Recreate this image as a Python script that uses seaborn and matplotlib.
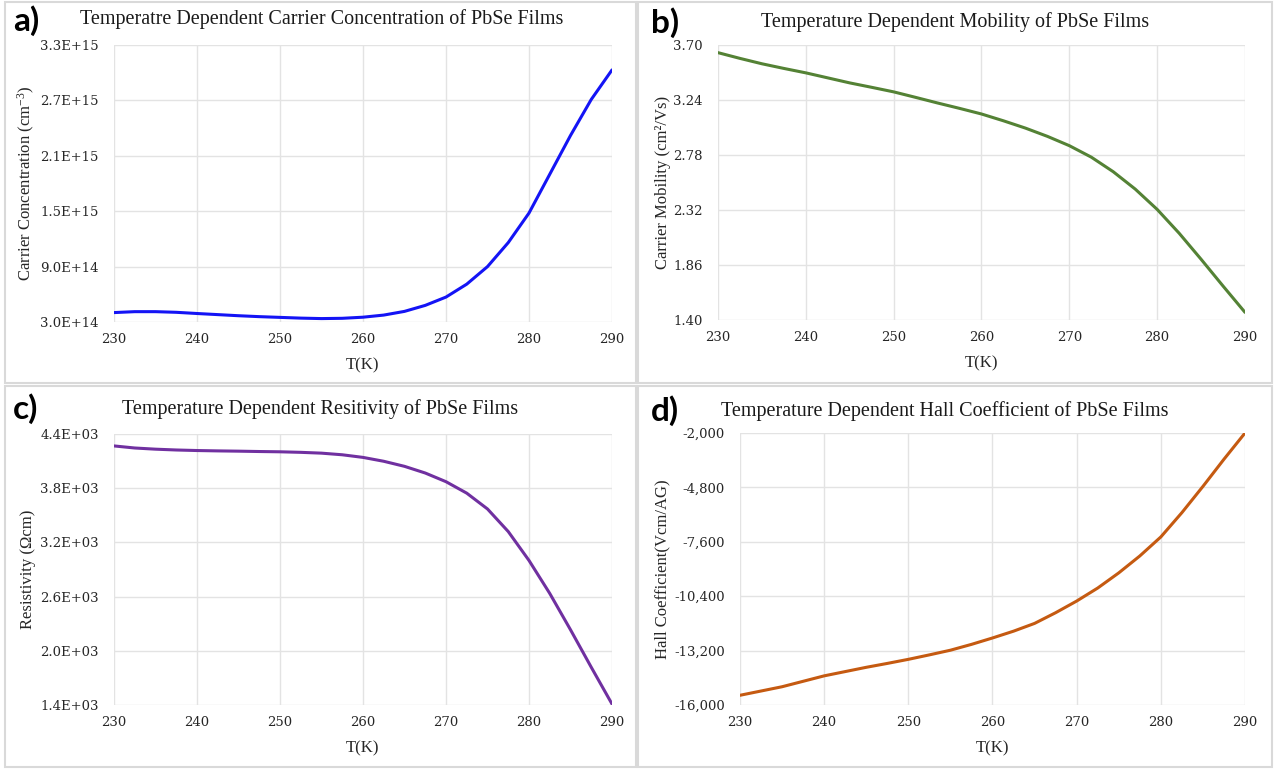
import numpy as np
import pandas as pd
import matplotlib
matplotlib.use("Agg")
import matplotlib.pyplot as plt
import seaborn as sns
from matplotlib.patches import Rectangle
from matplotlib.ticker import FixedLocator, FuncFormatter

# temperatures (K), read at 2.5 K steps
temp = [230, 232.5, 235, 237.5, 240, 242.5, 245, 247.5, 250, 252.5, 255, 257.5, 260,
        262.5, 265, 267.5, 270, 272.5, 275, 277.5, 280, 282.5, 285, 287.5, 290]

carrier_conc = [4.02e14, 4.12e14, 4.12e14, 4.05e14, 3.92e14, 3.80e14, 3.68e14, 3.58e14,
                3.50e14, 3.42e14, 3.37e14, 3.40e14, 3.52e14, 3.75e14, 4.15e14, 4.80e14,
                5.70e14, 7.10e14, 9.00e14, 1.16e15, 1.48e15, 1.90e15, 2.32e15, 2.71e15, 3.03e15]

mobility = [3.636, 3.588, 3.543, 3.504, 3.467, 3.425, 3.383, 3.346, 3.308, 3.262, 3.215,
            3.170, 3.123, 3.066, 3.005, 2.936, 2.858, 2.762, 2.640, 2.495, 2.325, 2.126,
            1.908, 1.684, 1.464]

resistivity = [4268, 4245, 4232, 4223, 4217, 4213, 4210, 4206, 4203, 4197, 4188, 4170,
               4141, 4098, 4042, 3968, 3872, 3745, 3570, 3320, 3000, 2635, 2233, 1818, 1411]

hall_coeff = [-15500, -15280, -15060, -14780, -14500, -14280, -14060, -13860, -13650,
              -13420, -13180, -12880, -12550, -12200, -11800, -11250, -10650, -9980,
              -9200, -8330, -7350, -6100, -4750, -3350, -2000]

x_ticks = [230, 240, 250, 260, 270, 280, 290]
conc_ticks = [3.0e14, 9.0e14, 1.5e15, 2.1e15, 2.7e15, 3.3e15]
mob_ticks = [1.40, 1.86, 2.32, 2.78, 3.24, 3.70]
res_ticks = [1.4e3, 2.0e3, 2.6e3, 3.2e3, 3.8e3, 4.4e3]
hall_ticks = [-16000, -13200, -10400, -7600, -4800, -2000]

titles = [
    "Temperatre Dependent Carrier Concentration of PbSe Films",
    "Temperature Dependent Mobility of PbSe Films",
    "Temperature Dependent Resitivity of PbSe Films",
    "Temperature Dependent Hall Coefficient of PbSe Films",
]
ylabels = [
    r"Carrier Concentration (cm$^{-3}$)",
    "Carrier Mobility (cm\u00b2/Vs)",
    "Resistivity (\u03a9cm)",
    "Hall Coefficient(Vcm/AG)",
]
letters = ["a)", "b)", "c)", "d)"]

sns.set_theme(style="whitegrid")
plt.rcParams["font.family"] = ["Liberation Serif", "DejaVu Serif"]
plt.rcParams["mathtext.fontset"] = "custom"
plt.rcParams["mathtext.rm"] = "Liberation Serif"
plt.rcParams["mathtext.it"] = "Liberation Serif:italic"

df = pd.DataFrame({"T": temp, "conc": carrier_conc, "mob": mobility,
                   "res": resistivity, "hall": hall_coeff})

W, H = 1280, 769
fig = plt.figure(figsize=(12.8, 7.69), dpi=100)

def px_axes(left, top, right, bottom):
    return fig.add_axes([left / W, 1 - bottom / H, (right - left) / W, (bottom - top) / H])

panels = [
    dict(box=(114, 45, 612, 322), col="conc", ticks=conc_ticks, color="#1414F5",
         fmt=lambda v, p: f"{v:.1E}", title_xy=(322, 19), letter_xy=(13, 21), frame=(5, 2, 636, 383)),
    dict(box=(718, 45, 1245, 320), col="mob", ticks=mob_ticks, color="#548235",
         fmt=lambda v, p: f"{v:.2f}", title_xy=(955, 22), letter_xy=(651, 23), frame=(638, 2, 1272, 383)),
    dict(box=(114, 434, 612, 705), col="res", ticks=res_ticks, color="#7030A0",
         fmt=lambda v, p: f"{v:.1E}", title_xy=(320, 409), letter_xy=(13, 409), frame=(5, 386, 636, 767)),
    dict(box=(740, 433, 1245, 705), col="hall", ticks=hall_ticks, color="#C55A11",
         fmt=lambda v, p: f"{v:,.0f}", title_xy=(945, 411), letter_xy=(651, 411), frame=(638, 386, 1272, 767)),
]
ylabel_right = [37, 671, 36, 670]
tick_font = ["DejaVu Serif"]

for i, p in enumerate(panels):
    fl, ft, fr, fb = p["frame"]
    fig.add_artist(Rectangle((fl / W, 1 - fb / H), (fr - fl) / W, (fb - ft) / H,
                             transform=fig.transFigure, fill=False,
                             edgecolor="#D9D9D9", linewidth=1.5))

    ax = px_axes(*p["box"])
    sns.lineplot(data=df, x="T", y=p["col"], ax=ax, color=p["color"], linewidth=2.2)
    ax.set_xlim(230, 290)
    ax.set_ylim(p["ticks"][0], p["ticks"][-1])
    ax.xaxis.set_major_locator(FixedLocator(x_ticks))
    ax.yaxis.set_major_locator(FixedLocator(p["ticks"]))
    ax.yaxis.set_major_formatter(FuncFormatter(p["fmt"]))
    ax.set_facecolor("white")
    ax.grid(True, color="#E3E3E3", linewidth=1)
    for s in ax.spines.values():
        s.set_visible(False)
    ax.tick_params(axis="x", length=0, pad=8, colors="#262626")
    ax.tick_params(axis="y", length=0, pad=11, colors="#262626")
    for lab in ax.get_xticklabels() + ax.get_yticklabels():
        lab.set_family(tick_font)
        lab.set_fontsize(9.5)

    l, t, r, b = p["box"]
    ax.set_xlabel("T(K)", fontsize=12, color="#262626")
    ax.xaxis.set_label_coords(0.5, -(357 - 322) / (b - t))
    ax.set_ylabel(ylabels[i], fontsize=12, color="#262626")
    ax.yaxis.set_label_coords((ylabel_right[i] - l) / (r - l), 0.5)

    tx, ty = p["title_xy"]
    fig.text(tx / W, 1 - ty / H, titles[i], ha="center", va="center",
             fontsize=14.5, color="#1a1a1a")
    lx, ly = p["letter_xy"]
    fig.text(lx / W, 1 - ly / H, letters[i], ha="left", va="center",
             fontsize=24, fontweight="bold", family=["Lato", "DejaVu Sans"], color="black")

fig.savefig("out.png", dpi=100)
